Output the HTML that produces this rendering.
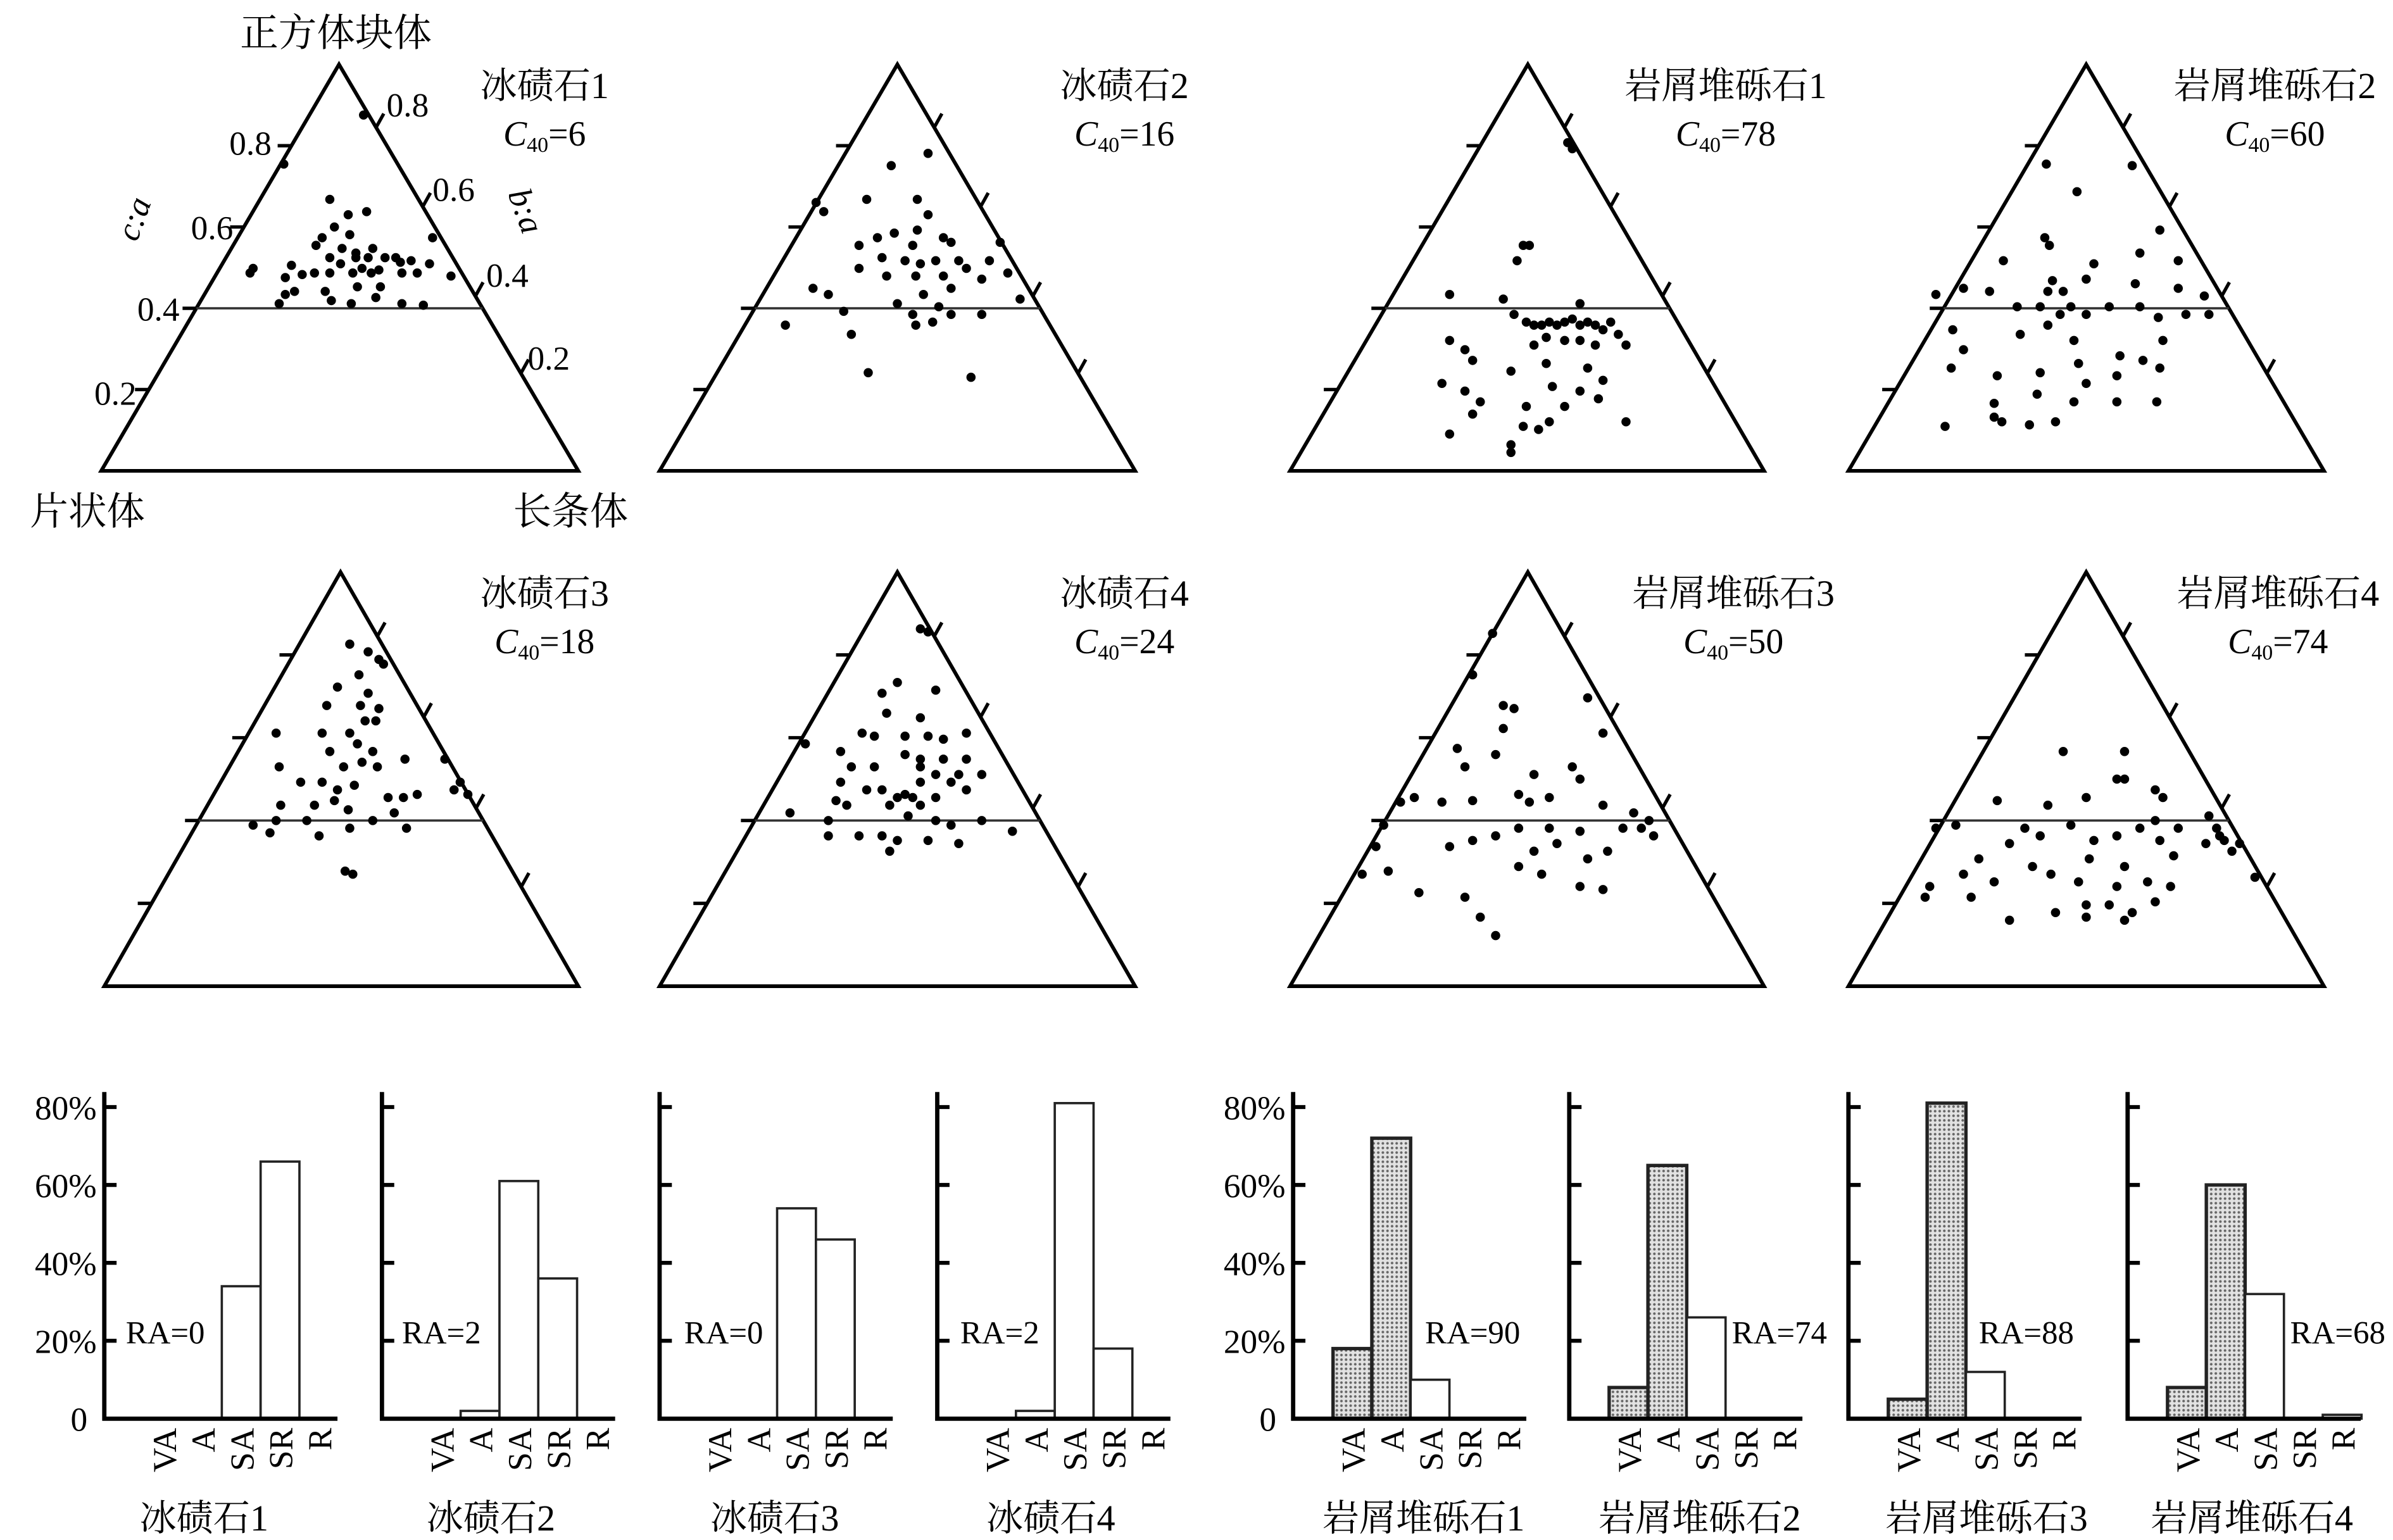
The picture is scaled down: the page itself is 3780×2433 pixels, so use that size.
<!DOCTYPE html>
<html><head><meta charset="utf-8">
<style>
html,body{margin:0;padding:0;background:#fff;}
svg{display:block;}
text{font-family:"Liberation Serif","Noto Serif CJK SC","Noto Sans CJK SC",serif;fill:#000;}
</style></head>
<body>
<svg id="s" xmlns="http://www.w3.org/2000/svg" width="3780" height="2433" viewBox="0 0 1560 1004.1" preserveAspectRatio="none">
<defs>
<pattern id="dots" width="3" height="3" patternUnits="userSpaceOnUse">
<rect width="3" height="3" fill="#e2e2e2"/><circle cx="1.5" cy="1.5" r="0.85" fill="#666"/>
</pattern>
</defs>
<g id="g"></g>
</svg>
<script>
var NS="http://www.w3.org/2000/svg";var G=document.getElementById('g');
function el(t,a,txt){var e=document.createElementNS(NS,t);for(var k in a)e.setAttribute(k,a[k]);if(txt!==undefined)e.textContent=txt;G.appendChild(e);return e;}
function line(x1,y1,x2,y2,w,c){el('line',{x1:x1,y1:y1,x2:x2,y2:y2,stroke:c||'#000','stroke-width':w||2});}
function txt(x,y,s,fs,anchor,extra){var a={x:x,y:y,'font-size':fs,'text-anchor':anchor||'start'};for(var k in extra)a[k]=extra[k];return el('text',a,s);}

var tris=[
 {L:66,R:377,A:221,T:42,B:307,t:'冰碛石1',c:'6',tc:355,d:[[237,75],[185,107],[215,130],[227,140],[239,138],[218,148],[210,155],[228,153],[206,160],[223,162],[232,165],[215,168],[222,172],[243,162],[251,168],[190,173],[232,168],[240,168],[258,168],[236,175],[247,176],[261,171],[268,170],[280,172],[186,181],[197,179],[205,178],[215,178],[230,178],[242,178],[262,178],[272,178],[186,192],[192,190],[233,187],[212,190],[248,187],[216,196],[245,194],[282,155],[294,180],[165,175],[163,178],[229,198],[262,198],[276,199],[182,198]]},
 {L:430,R:740,A:585,T:42,B:307,t:'冰碛石2',c:'16',tc:733,d:[[605,100],[581,108],[565,130],[532,132],[537,138],[598,130],[605,140],[572,155],[583,152],[560,160],[595,160],[615,155],[620,158],[652,158],[590,170],[600,172],[610,170],[625,170],[630,175],[645,170],[657,178],[560,175],[578,180],[597,180],[615,180],[640,182],[530,188],[540,192],[602,192],[620,188],[665,195],[612,200],[585,198],[512,212],[555,218],[597,212],[608,210],[566,243],[633,246],[550,203],[595,205],[620,205],[640,205],[575,168],[598,150]]},
 {L:841,R:1150,A:996,T:42,B:307,t:'岩屑堆砾石1',c:'78',tc:1125,d:[[1022,93],[1025,97],[993,160],[997,160],[989,170],[945,192],[980,195],[1030,198],[987,205],[995,210],[1000,212],[1005,212],[1010,210],[1015,212],[1020,210],[1025,208],[1030,212],[1035,210],[1040,212],[1045,215],[1050,210],[1055,218],[1060,225],[1008,220],[1020,222],[1030,222],[1040,225],[1000,225],[955,228],[945,222],[1035,240],[960,235],[1008,237],[985,242],[940,250],[1012,252],[1045,248],[955,255],[965,262],[995,265],[1030,255],[1042,260],[1060,275],[1010,275],[993,278],[945,283],[985,290],[1003,280],[985,295],[960,270],[1020,265]]},
 {L:1205,R:1515,A:1360,T:42,B:307,t:'岩屑堆砾石2',c:'60',tc:1483,d:[[1334,107],[1390,108],[1354,125],[1408,150],[1333,155],[1336,160],[1306,170],[1365,172],[1395,165],[1420,170],[1262,192],[1280,188],[1297,190],[1338,183],[1335,190],[1345,190],[1360,182],[1392,185],[1420,188],[1437,193],[1315,200],[1330,200],[1343,205],[1350,200],[1360,205],[1375,200],[1395,200],[1440,205],[1273,215],[1317,218],[1335,212],[1407,207],[1425,205],[1280,228],[1352,222],[1382,232],[1397,235],[1410,222],[1272,240],[1302,245],[1330,243],[1355,237],[1380,245],[1408,240],[1328,257],[1352,262],[1380,262],[1406,262],[1268,278],[1300,272],[1305,275],[1323,277],[1340,275],[1300,263],[1360,250]]},
 {L:68,R:377,A:222,T:373,B:643,t:'冰碛石3',c:'18',tc:355,d:[[228,420],[240,425],[247,430],[250,433],[234,440],[220,448],[240,452],[213,460],[235,460],[247,462],[238,470],[210,478],[228,478],[180,478],[245,470],[233,485],[243,490],[215,490],[182,500],[224,500],[236,497],[246,500],[264,495],[290,495],[300,510],[196,510],[210,510],[220,515],[231,512],[253,520],[263,520],[272,518],[296,515],[305,518],[183,525],[205,525],[218,522],[227,528],[257,530],[165,538],[180,535],[200,535],[228,540],[265,540],[243,535],[176,543],[208,545],[225,568],[230,570]]},
 {L:430,R:740,A:585,T:373,B:643,t:'冰碛石4',c:'24',tc:733,d:[[600,410],[605,412],[585,445],[575,452],[610,450],[578,465],[600,468],[562,478],[570,480],[590,480],[605,480],[615,482],[630,478],[525,485],[548,490],[590,492],[600,495],[615,495],[630,495],[555,500],[570,500],[600,500],[610,505],[625,505],[640,505],[548,510],[600,510],[620,510],[565,515],[575,515],[585,520],[595,520],[610,520],[630,515],[552,525],[580,525],[600,525],[515,530],[540,535],[592,532],[610,535],[620,538],[640,535],[660,542],[540,545],[560,545],[575,545],[585,548],[605,548],[580,555],[625,550],[590,518],[545,522]]},
 {L:841,R:1150,A:996,T:373,B:643,t:'岩屑堆砾石3',c:'50',tc:1130,d:[[973,413],[960,440],[1035,455],[980,460],[987,462],[980,475],[1045,478],[950,488],[975,492],[955,500],[1025,500],[1000,505],[1030,508],[922,520],[1010,520],[913,523],[940,523],[960,522],[990,518],[997,523],[1045,525],[1065,530],[1075,535],[1058,540],[1070,540],[1078,545],[902,538],[990,540],[1010,540],[1030,542],[960,548],[975,545],[897,552],[945,552],[1000,555],[1035,560],[1048,555],[1005,570],[1030,578],[888,570],[905,568],[925,582],[955,585],[1045,580],[965,598],[975,610],[990,565],[1015,550]]},
 {L:1205,R:1515,A:1360,T:373,B:643,t:'岩屑堆砾石4',c:'74',tc:1485,d:[[1345,490],[1385,490],[1302,522],[1335,525],[1360,520],[1385,508],[1380,508],[1405,515],[1410,520],[1440,532],[1447,545],[1450,548],[1460,550],[1262,540],[1275,538],[1320,540],[1350,538],[1395,540],[1405,535],[1420,540],[1445,540],[1310,550],[1330,545],[1365,548],[1380,545],[1408,548],[1417,558],[1362,560],[1385,565],[1290,560],[1325,565],[1337,570],[1438,550],[1455,555],[1470,572],[1280,570],[1258,578],[1255,585],[1300,575],[1355,575],[1380,578],[1400,575],[1415,578],[1285,585],[1360,590],[1375,590],[1390,595],[1405,588],[1310,600],[1340,595],[1360,598],[1385,600]]}
];
tris.forEach(function(t,i){
  el('polygon',{points:t.L+','+t.B+' '+t.A+','+t.T+' '+t.R+','+t.B,fill:'none',stroke:'#000','stroke-width':2.4,'stroke-linejoin':'miter'});
  var H=t.B-t.T;
  function lx(f){return t.L+f*(t.A-t.L);} function rx(f){return t.R-f*(t.R-t.A);} function y(f){return t.B-f*H;}
  line(lx(0.4),y(0.4),rx(0.4),y(0.4),1.5,'#333');
  [0.2,0.4,0.6,0.8].forEach(function(f){line(lx(f)-9,y(f),lx(f),y(f),2.2);});
  [0.24,0.43,0.65,0.845].forEach(function(f){var x=rx(f),yy=y(f);line(x,yy,x+5,yy-9,2.2);});
  t.d.forEach(function(p){el('circle',{cx:p[0],cy:p[1],r:3,fill:'#000'});});
  txt(t.tc,t.T+22,t.t,24,'middle');
  var c=txt(t.tc,t.T+53,'',23,'middle');
  var a=document.createElementNS(NS,'tspan');a.setAttribute('font-style','italic');a.textContent='C';c.appendChild(a);
  var b=document.createElementNS(NS,'tspan');b.setAttribute('font-size','14');b.setAttribute('dy','4');b.textContent='40';c.appendChild(b);
  var d=document.createElementNS(NS,'tspan');d.setAttribute('dy','-4');d.textContent='='+t.c;c.appendChild(d);
});
txt(219,30,'正方体块体',25,'middle');
txt(57,342,'片状体',25,'middle');
txt(372,342,'长条体',25,'middle');
[[177,101,'0.8'],[152,156,'0.6'],[117,209,'0.4'],[89,264,'0.2']].forEach(function(a){txt(a[0],a[1],a[2],22,'end');});
[[252,76,'0.8'],[282,131,'0.6'],[317,187,'0.4'],[344,241,'0.2']].forEach(function(a){txt(a[0],a[1],a[2],22,'start');});
txt(0,0,'c:a',22,'middle',{transform:'translate(94,145) rotate(-70)','font-style':'italic'});
txt(0,0,'b:a',22,'middle',{transform:'translate(336,140) rotate(70)','font-style':'italic'});

var cats=['VA','A','SA','SR','R'];
var charts=[
 {x:68,v:[0,0,34,66,0],ra:'RA=0',rx:82,t:'冰碛石1',tc:133,lab:true,sh:false},
 {x:249,v:[0,2,61,36,0],ra:'RA=2',rx:262,t:'冰碛石2',tc:320,sh:false},
 {x:430,v:[0,0,54,46,0],ra:'RA=0',rx:446,t:'冰碛石3',tc:505,sh:false},
 {x:611,v:[0,2,81,18,0],ra:'RA=2',rx:626,t:'冰碛石4',tc:685,sh:false},
 {x:843,v:[18,72,10,0,0],ra:'RA=90',rx:929,t:'岩屑堆砾石1',tc:928,lab:true,sh:true},
 {x:1023,v:[8,65,26,0,0],ra:'RA=74',rx:1129,t:'岩屑堆砾石2',tc:1108,sh:true},
 {x:1205,v:[5,81,12,0,0],ra:'RA=88',rx:1290,t:'岩屑堆砾石3',tc:1295,sh:true},
 {x:1387,v:[8,60,32,0,1],ra:'RA=68',rx:1493,t:'岩屑堆砾石4',tc:1468,sh:true}
];
var Y0=925,S=2.54,CW=25.3;
charts.forEach(function(c){
  var ax=c.x;
  c.v.forEach(function(v,k){ if(!v)return;
    var x0=ax+26+CW*k;
    el('rect',{x:x0,y:Y0-v*S,width:CW,height:v*S,fill:(c.sh&&k<2)?'url(#dots)':'#fff',stroke:'#222','stroke-width':(c.sh&&k<2)?2.2:1.5});
  });
  line(ax,712,ax,Y0+1.3,2.8);
  line(ax-1.3,Y0,ax+152,Y0,2.8);
  [20,40,60,80].forEach(function(p){line(ax,Y0-p*S,ax+8,Y0-p*S,2.6);});
  if(c.lab){[20,40,60,80].forEach(function(p){txt(ax-5,Y0-p*S+8,p+'%',22,'end');});txt(ax-11,Y0+8,'0',22,'end');}
  cats.forEach(function(s,k){var cx=ax+26+CW*k+CW/2;txt(0,0,s,22,'end',{transform:'translate('+(cx+8)+',931) rotate(-90)'});});
  txt(c.rx,876,c.ra,21,'start');
  txt(c.tc,998,c.t,24,'middle');
});
</script>
</body></html>
